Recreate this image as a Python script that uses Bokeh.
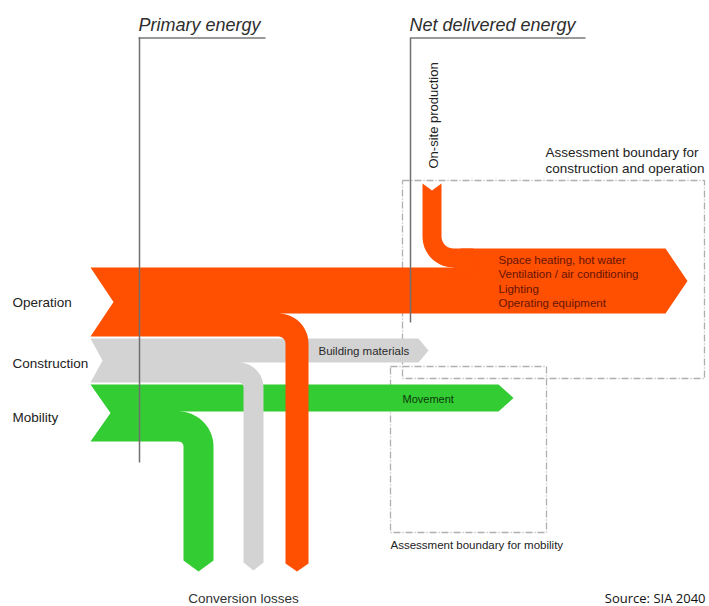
import numpy as np
from bokeh.plotting import figure
from bokeh.models import Range1d
from bokeh.embed import file_html
from bokeh.resources import INLINE
from bokeh.core.properties import value

# ---------------- diagram data (diagram units) ----------------
categories = ["Operation", "Construction", "Mobility"]
colors = ["#ff4f00", "#d3d3d3", "#33cc33"]
band_top = [267, 338, 384]
band_bottom = [336, 382, 441]
notch_x = [113, 102, 110]
cont_bottom = [313, 362, 411]        # lower edge of the stream that goes on
arrow_start = [665, 418, 498]
arrow_tip = [687, 428, 513]
loss_left = [285, 243, 183]          # conversion-loss branches
loss_right = [308, 263, 213]
loss_radius = [30, 25, 35]
loss_end = [563, 562, 560]
loss_tip = [571, 570, 571]

onsite_x = [422, 441]                # on-site production stream
onsite_top = [183, 190]
onsite_join = [248, 267]
onsite_radius = 31

label_y = [302, 363, 417]
operation_uses = ["Space heating, hot water", "Ventilation / air conditioning",
                  "Lighting", "Operating equipment"]
operation_uses_y = [259, 273.5, 288, 302.5]

box_cons = [402, 180, 704, 378]      # x0, y0, x1, y1
box_mob = [390, 366, 546, 532]

LEFT = 90


def arc(cx, cy, r, a0, a1, n=18):
    t = np.linspace(a0, a1, n)
    return list(cx + r * np.cos(t)), list(cy + r * np.sin(t))


def band_shape(i):
    t, b, cb = band_top[i], band_bottom[i], cont_bottom[i]
    xl, xr, R = loss_left[i], loss_right[i], loss_radius[i]
    w = xr - xl
    rin = R - w
    cx, cy = xr - R, cb + R
    xs, ys = [LEFT], [t]
    if i == 0:
        top_r = onsite_join[0]
        xs += [460, 460]
        ys += [t, top_r]
    else:
        top_r = t
    xs += [arrow_start[i], arrow_tip[i], arrow_start[i], cx]
    ys += [top_r, (top_r + cb) / 2, cb, cb]
    ax, ay = arc(cx, cy, R, -np.pi / 2, 0)
    xs += ax; ys += ay
    xs += [xr, (xl + xr) / 2, xl]
    ys += [loss_end[i], loss_tip[i], loss_end[i]]
    ax, ay = arc(cx, cy, rin, 0, -np.pi / 2, 8)
    xs += ax; ys += ay
    xs += [LEFT, notch_x[i]]
    ys += [b, (t + b) / 2]
    return xs, ys


def onsite_shape():
    x0, x1 = onsite_x
    R = onsite_radius
    rin = R - (x1 - x0)
    cx, cy = x0 + R, onsite_join[1] - R
    xs = [x0, (x0 + x1) / 2, x1]
    ys = [onsite_top[0], onsite_top[1], onsite_top[0]]
    ax, ay = arc(cx, cy, rin, np.pi, np.pi / 2, 10)
    xs += ax; ys += ay
    xs += [cx + 20, cx + 20, cx]
    ys += [onsite_join[0], onsite_join[1] + 8, onsite_join[1] + 8]
    ax, ay = arc(cx, cy, R, np.pi / 2, np.pi)
    xs += ax; ys += ay
    return xs, ys


p = figure(width=709, height=606, x_range=Range1d(0, 709), y_range=Range1d(606, 0),
           output_backend="svg", toolbar_location=None, x_axis_type=None,
           y_axis_type=None, min_border=0, background_fill_color="white",
           border_fill_color="white")
p.grid.visible = False
p.outline_line_color = None

FONT = value("Liberation Sans")
MID = "middle"

# dashed assessment boundaries
for bx in (box_cons, box_mob):
    x0, y0, x1, y1 = bx
    p.line([x0, x1, x1, x0, x0], [y0, y0, y1, y1, y0], line_color="#b0b0b0",
           line_width=1.3, line_dash="7 2 1 2")

# flows: green, grey, orange
for i in (2, 1, 0):
    xs, ys = band_shape(i)
    p.patch(xs, ys, fill_color=colors[i], line_color=None)
xs, ys = onsite_shape()
p.patch(xs, ys, fill_color=colors[0], line_color=None)

# headings and guide lines
p.line([138, 265], [37.5, 37.5], line_color="#9a9a9a", line_width=2)
p.line([410, 585], [37.5, 37.5], line_color="#9a9a9a", line_width=2)
p.line([139, 139], [37, 462], line_color="#707070", line_width=1.5)
p.line([410, 410], [37, 322], line_color="#707070", line_width=1.5)

p.text(x=[138, 409], y=[24, 24], text=["Primary energy", "Net delivered energy"],
       text_font=FONT, text_font_size="18px", text_font_style="italic",
       text_color="#2e2e2e", text_baseline=MID)

p.text(x=[12, 12, 12], y=label_y, text=categories, text_font=FONT,
       text_font_size="13.5px", text_color="#222222", text_baseline=MID)

p.text(x=[498] * 4, y=operation_uses_y, text=operation_uses, text_font=FONT,
       text_font_size="11.5px", text_color="#661505", text_baseline=MID)
p.text(x=[318], y=[350], text=["Building materials"], text_font=FONT,
       text_font_size="11.5px", text_color="#2a2a2a", text_baseline=MID)
p.text(x=[402], y=[398], text=["Movement"], text_font=FONT,
       text_font_size="11px", text_color="#0c3a0c", text_baseline=MID)

p.text(x=[432.5], y=[168], text=["On-site production"], angle=np.pi / 2,
       text_font=FONT, text_font_size="13px", text_color="#222222",
       text_baseline=MID)

p.text(x=[545, 545], y=[152, 168],
       text=["Assessment boundary for", "construction and operation"],
       text_font=FONT, text_font_size="13.5px", text_color="#222222",
       text_baseline=MID)
p.text(x=[390], y=[544], text=["Assessment boundary for mobility"], text_font=FONT,
       text_font_size="11.5px", text_color="#222222", text_baseline=MID)
p.text(x=[243], y=[597.5], text=["Conversion losses"], text_font=FONT,
       text_font_size="13.5px", text_color="#333333", text_align="center",
       text_baseline=MID)
p.text(x=[705], y=[597.5], text=["Source: SIA 2040"], text_font=value("Open Sans"),
       text_font_size="13px", text_color="#111111", text_align="right",
       text_baseline=MID)

open("out.html", "w").write(file_html(p, INLINE))
